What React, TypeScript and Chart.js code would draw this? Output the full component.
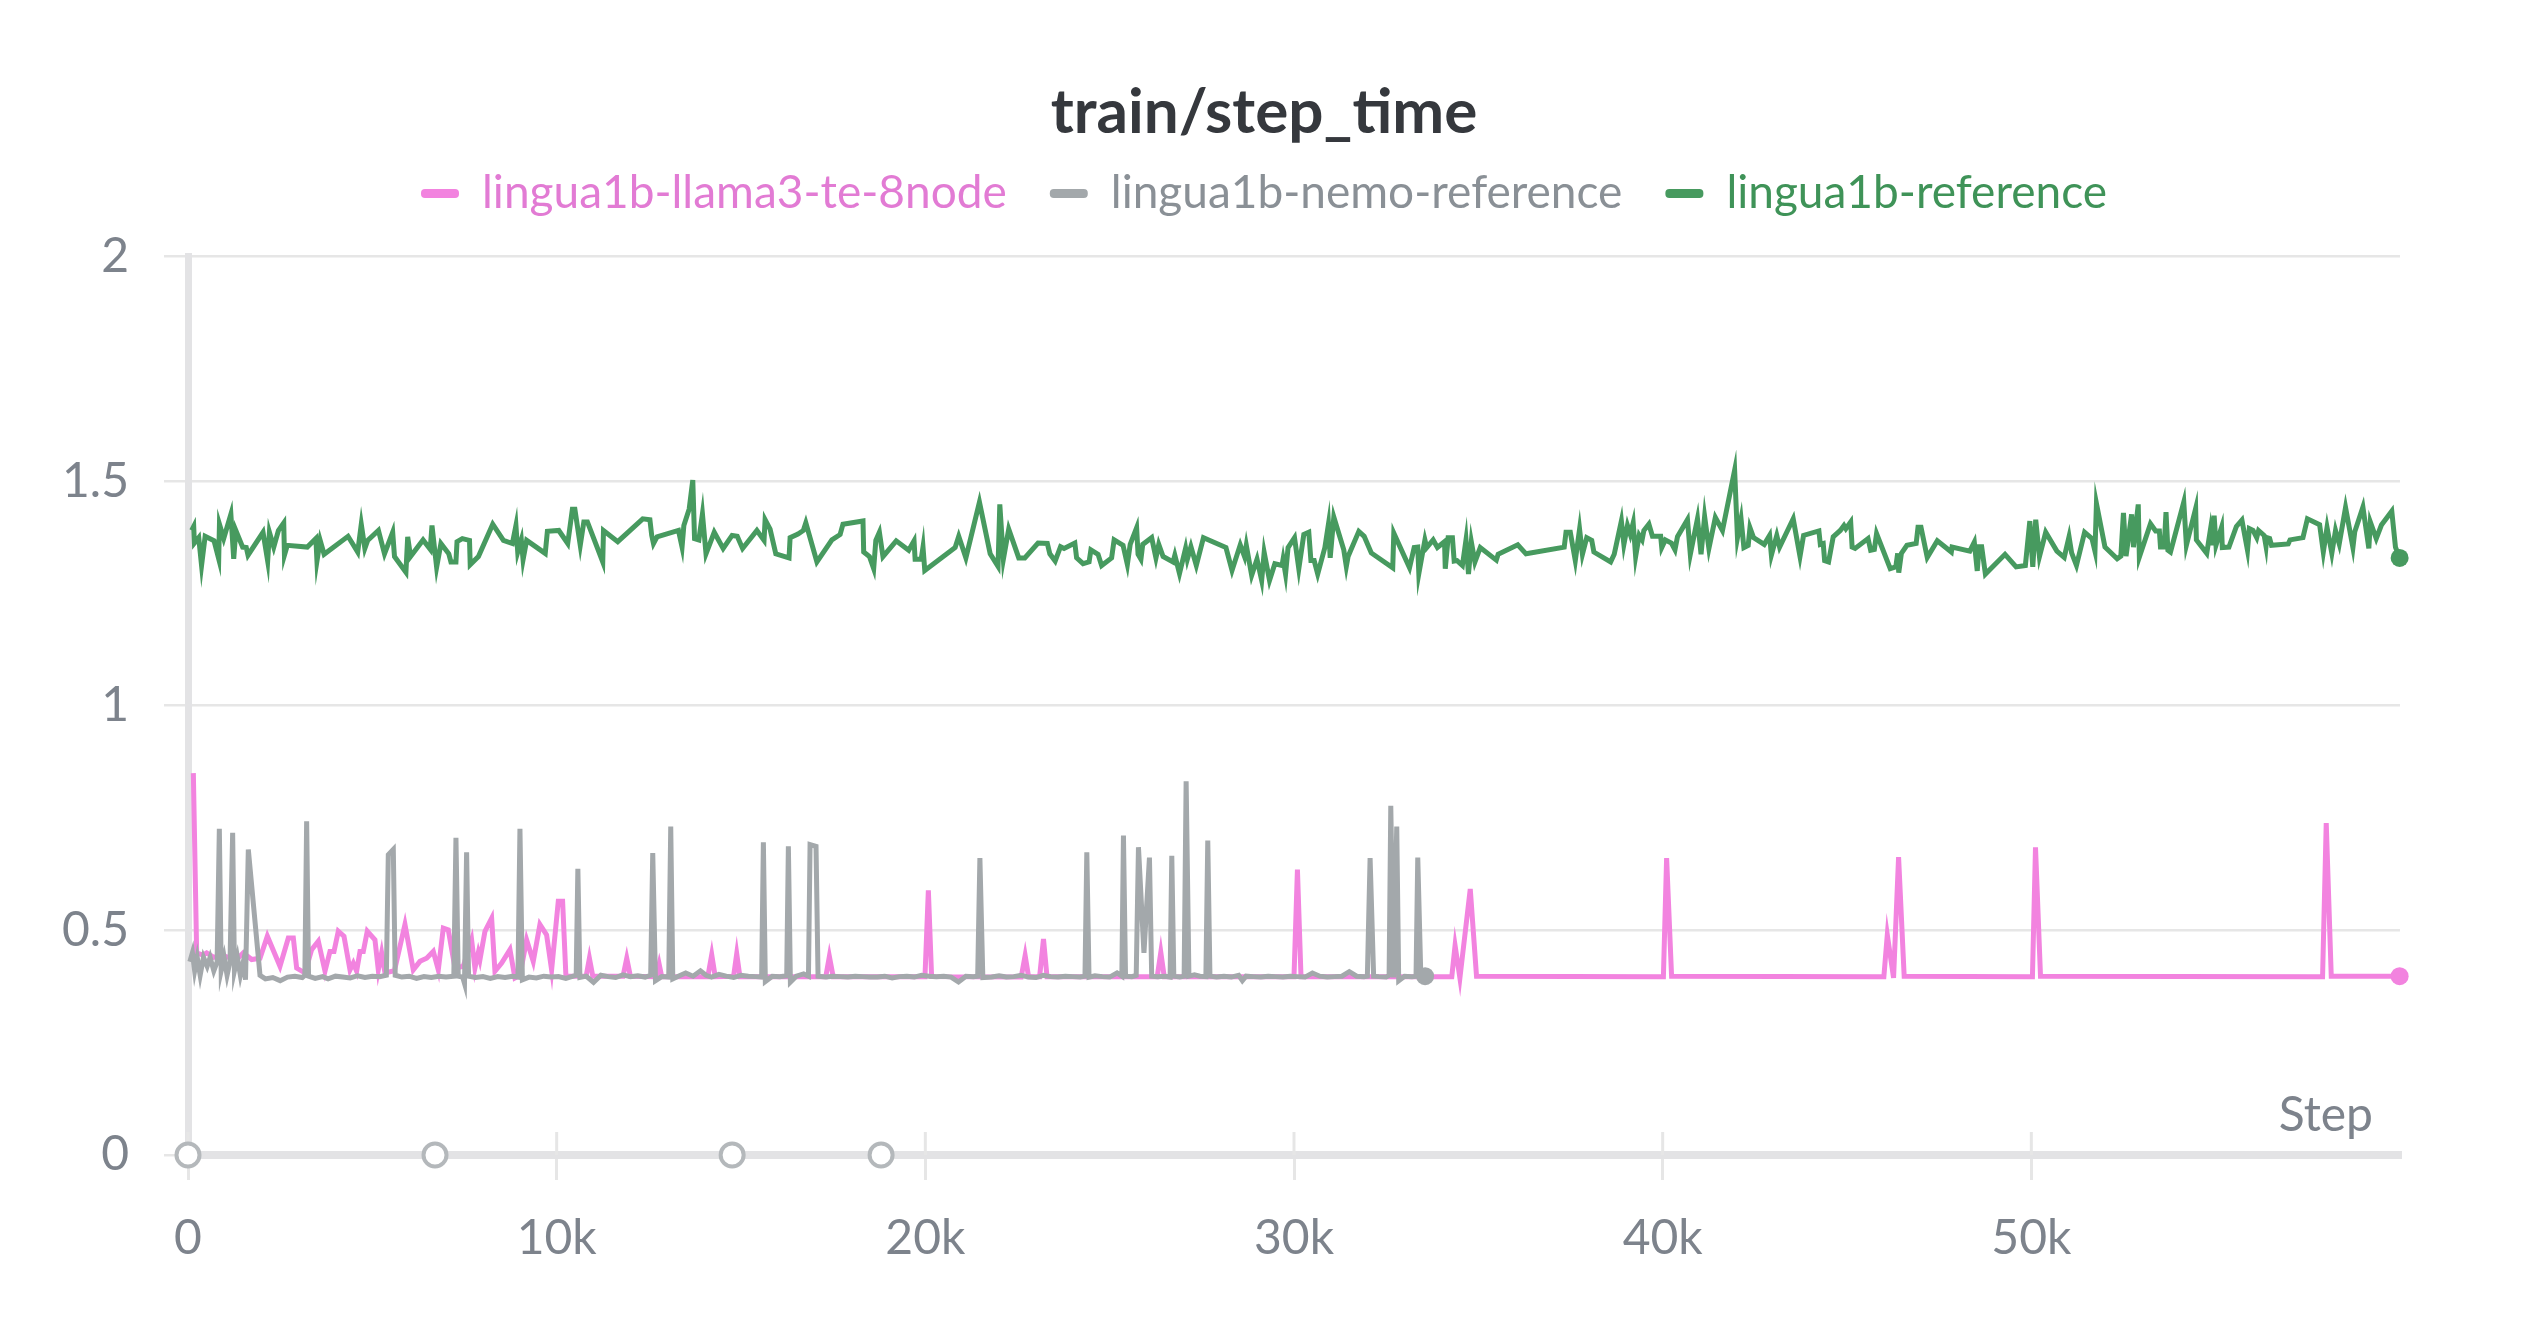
import React, { useEffect, useRef } from 'react';
import { Chart, registerables } from 'chart.js';

Chart.register(...registerables);

const chartTitle = 'train/step_time';
const axisName = 'Step';
const seriesNames = ['lingua1b-llama3-te-8node', 'lingua1b-nemo-reference', 'lingua1b-reference'];
const seriesColors = ['#f283df', '#a3a8ab', '#479a5f'];
const legendTextColors = ['#e27bd4', '#8a9096', '#3f9358'];
const xTicks = [0, 10000, 20000, 30000, 40000, 50000];
const yTicks = [0, 0.5, 1, 1.5, 2];
const eventSteps = [0, 6700, 14760, 18800];

// [step, seconds]
const llamaRun: [number, number][] = [
  [145, 0.85], [235, 0.45], [400, 0.445], [506, 0.45], [700, 0.44], [900, 0.445], [1100, 0.44], [1320, 0.435],
  [1500, 0.45], [1727, 0.435], [1953, 0.438], [2152, 0.487], [2495, 0.42], [2721, 0.483], [2857, 0.483],
  [2947, 0.416], [3173, 0.405], [3354, 0.457], [3535, 0.476], [3716, 0.409], [3851, 0.453], [3960, 0.453],
  [4077, 0.498], [4231, 0.487], [4394, 0.412], [4484, 0.427], [4574, 0.409], [4665, 0.453], [4755, 0.453],
  [4863, 0.498], [5071, 0.479], [5162, 0.412], [5252, 0.45], [5343, 0.405], [5600, 0.41], [5885, 0.513],
  [6111, 0.412], [6292, 0.431], [6473, 0.438], [6653, 0.453], [6789, 0.412], [6925, 0.505], [7060, 0.501],
  [7241, 0.416], [7467, 0.42], [7693, 0.479], [7783, 0.416], [7874, 0.45], [7919, 0.435], [8055, 0.498],
  [8236, 0.527], [8326, 0.409], [8507, 0.427], [8733, 0.457], [8868, 0.394], [9004, 0.4], [9185, 0.479],
  [9365, 0.431], [9546, 0.513], [9727, 0.49], [9863, 0.412], [10044, 0.565], [10161, 0.565], [10251, 0.398],
  [10450, 0.398], [10800, 0.398], [10888, 0.438], [10980, 0.398], [11800, 0.398], [11901, 0.438], [12000, 0.398],
  [12700, 0.397], [12780, 0.425], [12850, 0.397], [14100, 0.397], [14206, 0.446], [14300, 0.397], [14800, 0.398],
  [14884, 0.448], [14970, 0.397], [17300, 0.397], [17397, 0.442], [17500, 0.397], [19990, 0.397], [20082, 0.589],
  [20170, 0.397], [22600, 0.396], [22707, 0.444], [22800, 0.397], [23100, 0.397], [23205, 0.481], [23300, 0.397],
  [26290, 0.397], [26387, 0.451], [26480, 0.397], [30000, 0.397], [30093, 0.635], [30190, 0.397], [34280, 0.397],
  [34369, 0.466], [34500, 0.394], [34781, 0.592], [34951, 0.398], [40020, 0.397], [40107, 0.661], [40242, 0.398],
  [46000, 0.397], [46093, 0.49], [46263, 0.394], [46399, 0.663], [46551, 0.398], [50030, 0.397], [50113, 0.685],
  [50249, 0.398], [57900, 0.397], [57999, 0.739], [58135, 0.398], [59990, 0.398],
];

const nemoRun: [number, number][] = [
  [50, 0.43], [120, 0.45], [180, 0.41], [250, 0.44], [330, 0.4], [420, 0.44], [520, 0.42], [600, 0.44],
  [700, 0.41], [790, 0.43], [850, 0.726], [900, 0.41], [980, 0.44], [1060, 0.4], [1140, 0.43], [1211, 0.717],
  [1260, 0.41], [1340, 0.44], [1420, 0.4], [1500, 0.43], [1560, 0.39], [1636, 0.68], [1953, 0.4], [2100, 0.392],
  [2300, 0.395], [2500, 0.388], [2700, 0.396], [2900, 0.398], [3100, 0.395], [3170, 0.4], [3218, 0.743],
  [3270, 0.398], [3450, 0.393], [3650, 0.397], [3800, 0.392], [4000, 0.398], [4200, 0.396], [4400, 0.394],
  [4600, 0.399], [4800, 0.395], [5000, 0.398], [5200, 0.397], [5380, 0.4], [5433, 0.668], [5569, 0.68],
  [5620, 0.4], [5800, 0.396], [6000, 0.398], [6200, 0.393], [6400, 0.397], [6600, 0.395], [6800, 0.398],
  [7000, 0.396], [7210, 0.398], [7268, 0.706], [7330, 0.398], [7450, 0.396], [7500, 0.382], [7557, 0.674],
  [7610, 0.398], [7800, 0.395], [8000, 0.397], [8200, 0.393], [8400, 0.397], [8600, 0.395], [8800, 0.398],
  [8950, 0.396], [9004, 0.726], [9070, 0.39], [9250, 0.396], [9450, 0.394], [9650, 0.398], [9850, 0.396],
  [10050, 0.397], [10250, 0.393], [10450, 0.398], [10530, 0.4], [10575, 0.637], [10630, 0.395], [10800, 0.398],
  [11000, 0.384], [11200, 0.4], [11400, 0.397], [11600, 0.395], [11800, 0.401], [12000, 0.397], [12200, 0.399],
  [12400, 0.396], [12550, 0.4], [12606, 0.672], [12680, 0.388], [12850, 0.397], [13040, 0.396], [13094, 0.731],
  [13150, 0.392], [13300, 0.398], [13500, 0.405], [13700, 0.398], [13900, 0.41], [14050, 0.4], [14200, 0.396],
  [14400, 0.402], [14600, 0.398], [14800, 0.395], [15000, 0.4], [15200, 0.398], [15400, 0.397], [15560, 0.396],
  [15607, 0.696], [15660, 0.386], [15850, 0.398], [16050, 0.397], [16240, 0.399], [16285, 0.687], [16340, 0.385],
  [16500, 0.398], [16700, 0.403], [16830, 0.398], [16873, 0.691], [17035, 0.687], [17090, 0.398], [17300, 0.396],
  [17500, 0.398], [17700, 0.397], [17900, 0.396], [18100, 0.398], [18300, 0.397], [18500, 0.396], [18700, 0.396],
  [18900, 0.398], [19100, 0.394], [19300, 0.397], [19500, 0.398], [19700, 0.396], [19900, 0.4], [20100, 0.398],
  [20300, 0.397], [20500, 0.398], [20700, 0.396], [20900, 0.385], [21100, 0.398], [21300, 0.397], [21420, 0.398],
  [21480, 0.661], [21560, 0.395], [21800, 0.396], [22000, 0.399], [22200, 0.396], [22400, 0.397], [22600, 0.4],
  [22800, 0.396], [23000, 0.395], [23200, 0.4], [23400, 0.397], [23600, 0.396], [23800, 0.398], [24000, 0.397],
  [24200, 0.396], [24330, 0.398], [24380, 0.674], [24440, 0.396], [24600, 0.399], [24800, 0.397], [25000, 0.396],
  [25200, 0.405], [25330, 0.398], [25374, 0.711], [25430, 0.398], [25600, 0.397], [25720, 0.4], [25781, 0.685],
  [25930, 0.45], [26079, 0.662], [26140, 0.398], [26300, 0.397], [26500, 0.398], [26640, 0.396], [26685, 0.666],
  [26740, 0.398], [26900, 0.396], [27020, 0.398], [27074, 0.832], [27150, 0.398], [27300, 0.401], [27450, 0.398],
  [27610, 0.397], [27661, 0.7], [27720, 0.398], [27900, 0.396], [28100, 0.398], [28300, 0.396], [28500, 0.4],
  [28600, 0.388], [28700, 0.398], [28900, 0.397], [29100, 0.396], [29300, 0.398], [29500, 0.397], [29700, 0.396],
  [29900, 0.398], [30100, 0.397], [30300, 0.396], [30500, 0.405], [30700, 0.398], [30900, 0.396], [31100, 0.397],
  [31300, 0.398], [31500, 0.408], [31700, 0.398], [31900, 0.397], [31990, 0.398], [32064, 0.661], [32160, 0.398],
  [32300, 0.397], [32500, 0.396], [32580, 0.4], [32625, 0.777], [32700, 0.395], [32787, 0.731], [32840, 0.388],
  [33000, 0.398], [33200, 0.397], [33310, 0.398], [33357, 0.662], [33440, 0.398], [33556, 0.398],
];

const referenceRun: [number, number][] = [
  [100, 1.39], [155, 1.399], [174, 1.362], [291, 1.374], [368, 1.312], [465, 1.377], [707, 1.367], [833, 1.327],
  [853, 1.404], [969, 1.372], [1163, 1.426], [1240, 1.327], [1298, 1.39], [1483, 1.353], [1580, 1.352],
  [1628, 1.335], [2035, 1.386], [2161, 1.322], [2209, 1.386], [2326, 1.353], [2452, 1.39], [2597, 1.407],
  [2616, 1.335], [2694, 1.357], [3236, 1.353], [3469, 1.372], [3498, 1.322], [3585, 1.368], [3692, 1.337],
  [4341, 1.377], [4603, 1.342], [4700, 1.404], [4797, 1.35], [4874, 1.368], [5165, 1.39], [5330, 1.338],
  [5552, 1.386], [5601, 1.332], [5911, 1.297], [5959, 1.376], [6037, 1.332], [6376, 1.369], [6570, 1.348],
  [6618, 1.401], [6744, 1.308], [6861, 1.361], [7074, 1.338], [7132, 1.32], [7268, 1.32], [7297, 1.365],
  [7442, 1.372], [7636, 1.368], [7655, 1.314], [7878, 1.332], [8266, 1.404], [8556, 1.368], [8799, 1.361],
  [8895, 1.401], [8944, 1.342], [9041, 1.369], [9089, 1.325], [9186, 1.368], [9690, 1.339], [9748, 1.388],
  [10058, 1.39], [10300, 1.361], [10426, 1.437], [10494, 1.437], [10640, 1.357], [10737, 1.409], [10834, 1.409],
  [11250, 1.32], [11270, 1.39], [11657, 1.365], [12335, 1.416], [12529, 1.414], [12578, 1.379], [12626, 1.361],
  [12723, 1.376], [13304, 1.39], [13401, 1.353], [13450, 1.401], [13595, 1.438], [13692, 1.502], [13740, 1.372],
  [13857, 1.369], [13954, 1.427], [14051, 1.338], [14274, 1.386], [14516, 1.35], [14758, 1.379], [14898, 1.377],
  [15043, 1.35], [15431, 1.39], [15625, 1.368], [15654, 1.414], [15789, 1.393], [15944, 1.338], [16303, 1.329],
  [16332, 1.374], [16545, 1.382], [16690, 1.39], [16758, 1.407], [17059, 1.32], [17466, 1.369], [17689, 1.381],
  [17766, 1.404], [18309, 1.411], [18328, 1.342], [18483, 1.332], [18599, 1.305], [18657, 1.368], [18754, 1.386],
  [18851, 1.332], [19210, 1.367], [19549, 1.346], [19694, 1.367], [19723, 1.326], [19888, 1.326], [19937, 1.353],
  [19985, 1.301], [20809, 1.352], [20906, 1.377], [21100, 1.329], [21468, 1.453], [21759, 1.338], [21972, 1.31],
  [22020, 1.448], [22117, 1.326], [22262, 1.393], [22534, 1.329], [22698, 1.329], [23057, 1.362], [23309, 1.361],
  [23377, 1.338], [23522, 1.322], [23667, 1.354], [23764, 1.35], [24055, 1.362], [24103, 1.329], [24278, 1.316],
  [24442, 1.32], [24491, 1.347], [24685, 1.337], [24782, 1.312], [25053, 1.329], [25121, 1.369], [25363, 1.357],
  [25480, 1.314], [25557, 1.359], [25731, 1.396], [25770, 1.337], [25848, 1.326], [25897, 1.359], [26139, 1.374],
  [26255, 1.329], [26332, 1.359], [26449, 1.332], [26720, 1.32], [26768, 1.335], [26894, 1.294], [27059, 1.35],
  [27107, 1.326], [27204, 1.354], [27350, 1.312], [27544, 1.374], [28154, 1.352], [28319, 1.301], [28542, 1.358],
  [28658, 1.332], [28706, 1.357], [28852, 1.29], [28997, 1.326], [29123, 1.279], [29191, 1.341], [29336, 1.279],
  [29481, 1.316], [29675, 1.312], [29704, 1.326], [29771, 1.293], [29839, 1.352], [30014, 1.374], [30130, 1.305],
  [30266, 1.381], [30401, 1.386], [30459, 1.323], [30547, 1.323], [30643, 1.293], [30837, 1.352], [30934, 1.404],
  [30982, 1.329], [31080, 1.42], [31350, 1.347], [31419, 1.31], [31467, 1.332], [31758, 1.388], [31903, 1.377],
  [32097, 1.34], [32678, 1.307], [32707, 1.384], [33134, 1.307], [33260, 1.352], [33357, 1.353], [33386, 1.294],
  [33551, 1.369], [33600, 1.352], [33774, 1.369], [33890, 1.352], [34083, 1.365], [34103, 1.305], [34181, 1.374],
  [34297, 1.374], [34345, 1.322], [34423, 1.323], [34568, 1.312], [34665, 1.369], [34733, 1.293], [34810, 1.365],
  [34907, 1.32], [35052, 1.352], [35488, 1.324], [35537, 1.337], [36070, 1.358], [36293, 1.338], [37330, 1.353],
  [37378, 1.386], [37495, 1.386], [37630, 1.323], [37746, 1.393], [37824, 1.337], [37940, 1.374], [38076, 1.368],
  [38134, 1.342], [38589, 1.32], [38686, 1.337], [38880, 1.411], [38948, 1.359], [39045, 1.401], [39122, 1.381],
  [39200, 1.407], [39267, 1.332], [39364, 1.379], [39442, 1.369], [39490, 1.39], [39626, 1.404], [39723, 1.377],
  [39946, 1.377], [39975, 1.352], [40072, 1.369], [40237, 1.362], [40334, 1.347], [40402, 1.376], [40673, 1.414],
  [40750, 1.337], [40944, 1.416], [41041, 1.337], [41138, 1.421], [41254, 1.35], [41429, 1.419], [41622, 1.39],
  [41952, 1.524], [42029, 1.374], [42126, 1.416], [42203, 1.352], [42320, 1.357], [42368, 1.396], [42465, 1.374],
  [42755, 1.359], [42901, 1.379], [42949, 1.335], [43095, 1.379], [43172, 1.353], [43541, 1.416], [43725, 1.332],
  [43822, 1.379], [44238, 1.389], [44277, 1.359], [44355, 1.361], [44393, 1.323], [44500, 1.32], [44626, 1.376],
  [44818, 1.39], [44918, 1.401], [44969, 1.394], [45100, 1.409], [45139, 1.353], [45220, 1.35], [45571, 1.372],
  [45641, 1.346], [45742, 1.348], [45802, 1.383], [46173, 1.305], [46324, 1.309], [46374, 1.339], [46404, 1.296],
  [46475, 1.339], [46625, 1.357], [46876, 1.361], [46926, 1.397], [47007, 1.397], [47177, 1.33], [47449, 1.367],
  [47830, 1.342], [47850, 1.353], [48332, 1.344], [48453, 1.364], [48533, 1.3], [48583, 1.354], [48653, 1.354],
  [48754, 1.293], [49286, 1.337], [49437, 1.323], [49587, 1.309], [49838, 1.312], [49959, 1.411], [50039, 1.309],
  [50119, 1.414], [50220, 1.332], [50390, 1.386], [50692, 1.344], [50892, 1.33], [51023, 1.376], [51093, 1.34],
  [51224, 1.312], [51445, 1.386], [51645, 1.372], [51726, 1.344], [51766, 1.45], [51997, 1.353], [52328, 1.327],
  [52428, 1.333], [52499, 1.429], [52569, 1.333], [52720, 1.426], [52770, 1.353], [52900, 1.448], [52930, 1.331],
  [53232, 1.405], [53372, 1.389], [53473, 1.389], [53503, 1.353], [53603, 1.353], [53653, 1.431], [53704, 1.346],
  [53774, 1.342], [54135, 1.453], [54206, 1.357], [54457, 1.439], [54477, 1.369], [54758, 1.339], [54858, 1.392],
  [54909, 1.357], [54959, 1.423], [55009, 1.357], [55160, 1.397], [55180, 1.352], [55360, 1.353], [55562, 1.399],
  [55712, 1.413], [55863, 1.346], [55913, 1.394], [56013, 1.39], [56114, 1.374], [56164, 1.39], [56315, 1.379],
  [56365, 1.355], [56385, 1.374], [56465, 1.372], [56515, 1.357], [56967, 1.36], [57017, 1.369], [57368, 1.374],
  [57489, 1.416], [57820, 1.403], [57920, 1.342], [58021, 1.397], [58151, 1.339], [58251, 1.39], [58352, 1.36],
  [58523, 1.441], [58723, 1.352], [58773, 1.387], [58994, 1.442], [59155, 1.35], [59195, 1.409], [59356, 1.372],
  [59496, 1.402], [59777, 1.433], [59877, 1.353], [59990, 1.329],
];

const runs = [llamaRun, nemoRun, referenceRun];

const FONT = 'Lato, "Noto Sans", sans-serif';
const TICK_COLOR = '#7d838c';
const GRID_COLOR = '#e6e6e6';
const AXIS_COLOR = '#e3e3e5';

// tick marks crossing the x axis and the "Step" name inside the plot
const stepAxisPlugin = {
  id: 'stepAxis',
  beforeDatasetsDraw(chart: any) {
    const { ctx, chartArea, scales } = chart;
    const xScale = scales.x;
    ctx.save();
    ctx.strokeStyle = GRID_COLOR;
    ctx.lineWidth = 3;
    xScale.ticks.forEach((t: any) => {
      const px = xScale.getPixelForValue(t.value);
      ctx.beginPath();
      ctx.moveTo(px, chartArea.bottom - 23);
      ctx.lineTo(px, chartArea.bottom);
      ctx.stroke();
    });
    ctx.fillStyle = TICK_COLOR;
    ctx.font = `48px ${FONT}`;
    ctx.textAlign = 'right';
    ctx.textBaseline = 'alphabetic';
    ctx.fillText(axisName, chartArea.right - 27, chartArea.bottom - 24);
    ctx.restore();
  },
};

const lastPointRadius = (ctx: any) => (ctx.dataIndex === ctx.dataset.data.length - 1 ? 9 : 0);

// invisible axis used only to reserve space in the layout
const spacer = (position: string, size: number) => ({
  type: 'linear',
  position,
  display: true,
  min: 0,
  max: 1,
  ticks: { display: false },
  grid: { display: false, drawTicks: false },
  border: { display: false },
  afterFit: (scale: any) => {
    if (position === 'top') scale.height = size;
    else scale.width = size;
  },
});

const StepTimeChart: React.FC = () => {
  const chartRef = useRef<HTMLCanvasElement>(null);
  const chartInstance = useRef<Chart | null>(null);

  useEffect(() => {
    document.body.style.margin = '0';
    if (!chartRef.current) return;
    if (chartInstance.current) chartInstance.current.destroy();

    const lineSet = (i: number) => ({
      label: seriesNames[i],
      data: runs[i].map(([x, y]) => ({ x, y })),
      xAxisID: 'x',
      yAxisID: 'y',
      borderColor: seriesColors[i],
      backgroundColor: seriesColors[i],
      borderWidth: 5,
      tension: 0,
      pointRadius: lastPointRadius,
      pointBorderWidth: 0,
      pointBackgroundColor: seriesColors[i],
      clip: false as any,
    });

    chartInstance.current = new Chart(chartRef.current, {
      type: 'line',
      data: {
        datasets: [
          {
            label: 'events',
            data: eventSteps.map((x) => ({ x, y: 0 })),
            xAxisID: 'x',
            yAxisID: 'y',
            showLine: false,
            pointRadius: 11.5,
            pointBorderWidth: 4,
            pointBorderColor: '#b4b8bb',
            pointBackgroundColor: '#ffffff',
            clip: false as any,
          },
          lineSet(1),
          lineSet(0),
          lineSet(2),
        ],
      },
      options: {
        animation: false,
        responsive: true,
        maintainAspectRatio: false,
        events: [],
        layout: { padding: 0 },
        plugins: {
          tooltip: { enabled: false },
          title: {
            display: true,
            text: chartTitle,
            color: '#35383d',
            font: { family: FONT, size: 62, weight: 'bold' },
            padding: { top: 76, bottom: -23 },
          },
          legend: {
            display: true,
            onClick: () => {},
            labels: {
              boxWidth: 38,
              boxHeight: 9,
              useBorderRadius: true,
              borderRadius: 4,
              padding: 43,
              font: { family: FONT, size: 46 },
              generateLabels: () =>
                seriesNames.map((name, i) => ({
                  text: name,
                  fillStyle: seriesColors[i],
                  strokeStyle: seriesColors[i],
                  lineWidth: 0,
                  fontColor: legendTextColors[i],
                  hidden: false,
                  datasetIndex: i,
                  borderRadius: 4,
                })),
            },
          },
        },
        scales: {
          x: {
            type: 'linear',
            position: 'bottom',
            min: 0,
            max: 60000,
            afterBuildTicks: (scale: any) => {
              scale.ticks = xTicks.map((value) => ({ value }));
            },
            afterFit: (scale: any) => {
              scale.height = 173;
            },
            ticks: {
              color: TICK_COLOR,
              font: { family: FONT, size: 48 },
              padding: 30,
              maxRotation: 0,
              callback: (v: any) => (v === 0 ? '0' : `${Number(v) / 1000}k`),
            },
            grid: { drawOnChartArea: false, drawTicks: true, tickLength: 25, color: GRID_COLOR, lineWidth: 3 },
            border: { color: AXIS_COLOR, width: 8 },
          },
          y: {
            type: 'linear',
            position: 'left',
            min: 0,
            max: 2,
            afterBuildTicks: (scale: any) => {
              scale.ticks = yTicks.map((value) => ({ value }));
            },
            afterFit: (scale: any) => {
              scale.width = 188;
              scale.paddingTop = 256;
            },
            ticks: {
              color: TICK_COLOR,
              font: { family: FONT, size: 48 },
              padding: 35,
              callback: (v: any) => String(v),
            },
            grid: { color: GRID_COLOR, lineWidth: 2.5, tickLength: 24, drawTicks: true },
            border: { color: AXIS_COLOR, width: 7 },
          },
          gapTop: spacer('top', 30),
          gapRight: spacer('right', 128),
        },
      } as any,
      plugins: [stepAxisPlugin],
    });

    return () => {
      if (chartInstance.current) {
        chartInstance.current.destroy();
        chartInstance.current = null;
      }
    };
  }, []);

  return (
    <div style={{ width: 2528, height: 1328, position: 'relative', background: '#ffffff' }}>
      <canvas ref={chartRef}></canvas>
    </div>
  );
};

export default function App() {
  return <StepTimeChart />;
}
